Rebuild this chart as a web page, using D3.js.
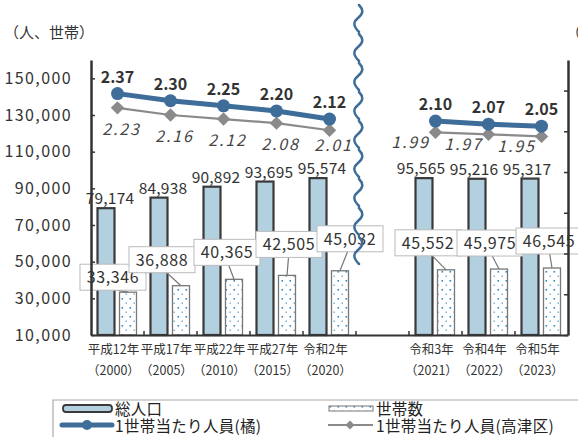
<!DOCTYPE html>
<html><head><meta charset="utf-8">
<script src="https://cdn.jsdelivr.net/npm/d3@7"></script>
<style>
html,body{margin:0;padding:0;background:#fff;}
svg{display:block;font-family:"Noto Sans CJK JP","Noto Sans",sans-serif;}
</style></head>
<body><svg id="c" width="578" height="437"></svg>
<script>
// ---- data ----
const eraLabels = ["平成12年","平成17年","平成22年","平成27年","令和2年","令和3年","令和4年","令和5年"];
const yearLabels = ["（2000）","（2005）","（2010）","（2015）","（2020）","（2021）","（2022）","（2023）"];
const totalPop = [79174,84938,90892,93695,95574,95565,95216,95317];
const households = [33346,36888,40365,42505,45032,45552,45975,46545];
const perHH = [2.37,2.30,2.25,2.20,2.12,2.10,2.07,2.05];
const perHHTakatsu = [2.23,2.16,2.12,2.08,2.01,1.99,1.97,1.95];
const yTickValues = [10000,30000,50000,70000,90000,110000,130000,150000];
const rTickValues = [0,0.4,0.8,1.2,1.6,2.0,2.4];
const slots = ["2000","2005","2010","2015","2020","gap","2021","2022","2023"];
const slotOf = ["2000","2005","2010","2015","2020","2021","2022","2023"];
// annotation nudges for household label boxes (dx from bar centre, dy above bar top)
const boxNudgeX = [-15,-19,-7,2,10,-18,-9,-3];
const boxNudgeY = [15,26,27,31,32,27,26,27];

const svg = d3.select("#c");
const plotL = 91, plotR = 568, plotT = 60, base = 335;
const x = d3.scaleBand().domain(slots).range([plotL,plotR]).padding(0);
const sub = d3.scaleBand().domain(["pop","hh"]).range([6.5,45.5]).paddingInner(0.227);
const y = d3.scaleLinear().domain([10000,160000]).range([base,plotT]);
const yR = d3.scaleLinear().domain([0,2.7]).range([base,plotT]);
const blue = "#3e6d9a", gray = "#8a8a8a", txt = "#333";

const defs = svg.append("defs");
const pat = defs.append("pattern").attr("id","dots").attr("patternUnits","userSpaceOnUse")
  .attr("width",8).attr("height",9);
pat.append("rect").attr("width",8).attr("height",9).attr("fill","#fff");
pat.append("rect").attr("x",1.5).attr("y",1).attr("width",1.6).attr("height",1.6).attr("fill","#2c8ac0");
pat.append("rect").attr("x",5.5).attr("y",5.5).attr("width",1.4).attr("height",1.4).attr("fill","#6aa9cf");

svg.append("text").attr("x",4).attr("y",38).attr("font-size",15).attr("fill",txt).text("（人、世帯）");
svg.append("text").attr("x",566).attr("y",38).attr("font-size",15).attr("fill",txt).text("（人）");

const cx = i => x(slotOf[i]);
svg.append("g").selectAll("rect").data(totalPop).join("rect")
  .attr("x",(d,i)=>cx(i)+sub("pop")).attr("width",sub.bandwidth())
  .attr("y",d=>y(d)).attr("height",d=>base-y(d))
  .attr("fill","#b2d0df").attr("stroke","#3a3a3a").attr("stroke-width",2.2);
svg.append("g").selectAll("rect").data(households).join("rect")
  .attr("x",(d,i)=>cx(i)+sub("hh")).attr("width",sub.bandwidth())
  .attr("y",d=>y(d)).attr("height",d=>base-y(d))
  .attr("fill","url(#dots)").attr("stroke","#777").attr("stroke-width",1.3);

svg.append("g").selectAll("text").data(totalPop).join("text")
  .attr("x",(d,i)=>cx(i)+sub("pop")+sub.bandwidth()/2+(i<5?4:-3))
  .attr("y",d=>y(d)-4).attr("text-anchor","middle").attr("font-size",15.5).attr("letter-spacing",0.2).attr("fill",txt)
  .text(d=>d3.format(",")(d));

const hg = svg.append("g");
households.forEach((d,i)=>{
  const bx = cx(i)+sub("hh")+sub.bandwidth()/2;
  const by = y(d);
  const lx = bx+boxNudgeX[i], ly = by-boxNudgeY[i];
  const w = 66, h = 26;
  hg.append("line").attr("x1",lx+0.25*(bx-lx)).attr("y1",ly+h/2).attr("x2",bx).attr("y2",by)
    .attr("stroke","#777").attr("stroke-width",1.2);
  hg.append("rect").attr("x",lx-w/2).attr("y",ly-h/2).attr("width",w).attr("height",h)
    .attr("fill","#fff").attr("stroke","#bbb").attr("stroke-width",1);
  hg.append("text").attr("x",lx).attr("y",ly+6).attr("text-anchor","middle")
    .attr("font-size",16).attr("letter-spacing",0.6).attr("fill",txt).text(d3.format(",")(d));
});

const ax = svg.append("g").attr("transform",`translate(${plotL},0)`)
  .call(d3.axisLeft(y).tickValues(yTickValues).tickFormat(d3.format(",")).tickSizeInner(-4).tickSizeOuter(0).tickPadding(19));
ax.select(".domain").attr("stroke","#333").attr("stroke-width",2.5);
ax.selectAll(".tick line").attr("stroke","#333").attr("stroke-width",1.5);
ax.selectAll(".tick text").attr("font-size",16).attr("letter-spacing",1.4).attr("fill",txt).attr("font-family","'Noto Sans CJK JP',sans-serif");
const axR = svg.append("g").attr("transform",`translate(${plotR},0)`)
  .call(d3.axisRight(yR).tickValues(rTickValues).tickFormat("").tickSizeInner(-4).tickSizeOuter(0));
axR.select(".domain").attr("stroke","#333").attr("stroke-width",2.5);
axR.selectAll(".tick line").attr("stroke","#333").attr("stroke-width",1.5);
const bounds = slots.slice(1).map(s=>x(s));
const axX = svg.append("g").attr("transform",`translate(0,${base})`)
  .call(d3.axisBottom(x).tickValues([]).tickSizeOuter(0));
axX.select(".domain").attr("stroke","#333").attr("stroke-width",2);
svg.append("g").selectAll("line").data(bounds).join("line")
  .attr("x1",d=>d).attr("x2",d=>d).attr("y1",base).attr("y2",base-4)
  .attr("stroke","#333").attr("stroke-width",1.5);

const xl = svg.append("g").attr("font-size",12.5).attr("fill",txt).attr("text-anchor","middle");
eraLabels.forEach((t,i)=>{
  xl.append("text").attr("x",cx(i)+x.bandwidth()/2-4).attr("y",354).text(t);
  xl.append("text").attr("x",cx(i)+x.bandwidth()/2-4).attr("y",375).text(yearLabels[i]);
});

const px = i => cx(i)+x.bandwidth()/2;
const segs = [[0,1,2,3,4],[5,6,7]];
const lineG = svg.append("g");
segs.forEach(s=>{
  const lg = d3.line().x(i=>px(i)).y(i=>yR(perHHTakatsu[i]));
  lineG.append("path").attr("d",lg(s)).attr("fill","none").attr("stroke","#fff").attr("stroke-width",6);
  lineG.append("path").attr("d",lg(s)).attr("fill","none").attr("stroke",gray).attr("stroke-width",2.2);
});
lineG.selectAll("path.dm").data(perHHTakatsu).join("path").attr("class","dm")
  .attr("transform",(d,i)=>`translate(${px(i)},${yR(d)}) rotate(45)`)
  .attr("d",d3.symbol(d3.symbolSquare,90)).attr("fill",gray);
segs.forEach(s=>{
  const lb = d3.line().x(i=>px(i)).y(i=>yR(perHH[i]));
  lineG.append("path").attr("d",lb(s)).attr("fill","none").attr("stroke",blue).attr("stroke-width",5);
});
lineG.selectAll("circle").data(perHH).join("circle")
  .attr("cx",(d,i)=>px(i)).attr("cy",d=>yR(d)).attr("r",6.5).attr("fill",blue);

svg.append("g").selectAll("text").data(perHH).join("text")
  .attr("x",(d,i)=>px(i)).attr("y",d=>yR(d)-11).attr("text-anchor","middle")
  .attr("font-size",16).attr("font-weight","bold").attr("fill",txt).text(d=>d.toFixed(2));
svg.append("g").selectAll("text").data(perHHTakatsu).join("text")
  .attr("x",(d,i)=>px(i)+(i<5?4:-25)).attr("y",d=>yR(d))
  .attr("dy",(d,i)=>i<4?27:(i===4?21:16))
  .attr("text-anchor","middle").attr("font-size",16).attr("font-style","italic")
  .attr("letter-spacing",1.8).attr("fill","#444").text(d=>d.toFixed(2));

const bxp = x("gap")+2;
let sq = "";
for(let yy=5; yy<262; yy+=29){
  sq += `M${bxp+1},${yy} C${bxp+6},${yy+5} ${bxp+5},${yy+9} ${bxp},${yy+13} S${bxp-5},${yy+21} ${bxp+1},${yy+27} `;
}
svg.append("path").attr("d",sq).attr("fill","none").attr("stroke",blue).attr("stroke-width",2.5).attr("stroke-linecap","round");

const lgd = svg.append("g");
lgd.append("path").attr("d","M53,437 V400 H578").attr("fill","none").attr("stroke","#aaa").attr("stroke-width",1.2);
lgd.append("rect").attr("x",63).attr("y",405).attr("width",49).attr("height",7).attr("rx",3)
  .attr("fill","#b2d0df").attr("stroke","#3a3a3a").attr("stroke-width",1.8);
lgd.append("text").attr("x",115).attr("y",415).attr("font-size",15.5).attr("letter-spacing",0.3).attr("fill","#222").text("総人口");
lgd.append("line").attr("x1",62).attr("x2",112).attr("y1",425).attr("y2",425).attr("stroke",blue).attr("stroke-width",5).attr("stroke-linecap","round");
lgd.append("circle").attr("cx",87).attr("cy",425).attr("r",5).attr("fill",blue);
lgd.append("text").attr("x",115).attr("y",432).attr("font-size",15.5).attr("letter-spacing",0.3).attr("fill","#222").text("1世帯当たり人員(橘)");
lgd.append("rect").attr("x",329).attr("y",406).attr("width",44).attr("height",5)
  .attr("fill","url(#dots)").attr("stroke","#777").attr("stroke-width",1);
lgd.append("text").attr("x",376).attr("y",415).attr("font-size",15.5).attr("letter-spacing",0.3).attr("fill","#222").text("世帯数");
lgd.append("line").attr("x1",328).attr("x2",373).attr("y1",425).attr("y2",425).attr("stroke",gray).attr("stroke-width",2);
lgd.append("path").attr("transform","translate(350,425) rotate(45)").attr("d",d3.symbol(d3.symbolSquare,40)).attr("fill",gray);
lgd.append("text").attr("x",376).attr("y",432).attr("font-size",15.5).attr("letter-spacing",0.3).attr("fill","#222").text("1世帯当たり人員(高津区)");
</script></body></html>
